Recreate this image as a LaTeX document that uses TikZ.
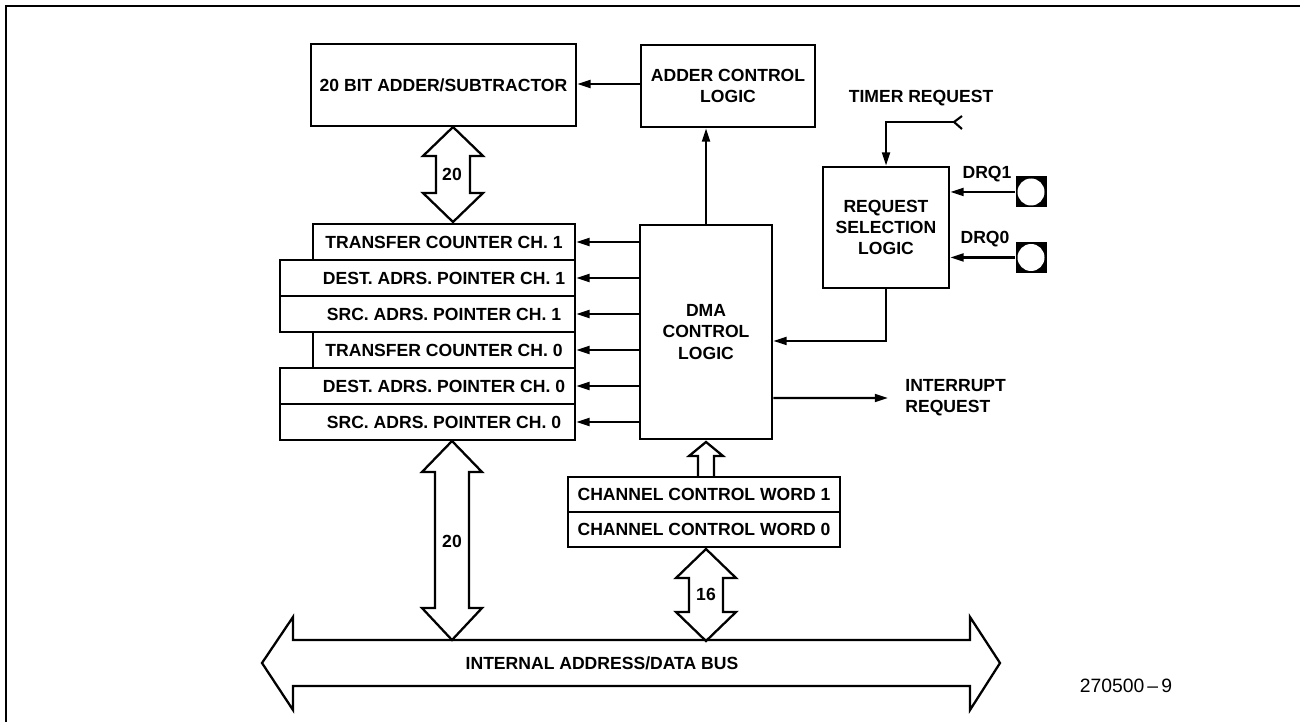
\documentclass[tikz,border=0pt]{standalone}
\usepackage{fontspec}
\setmainfont{Liberation Sans}
\usetikzlibrary{arrows.meta}

\begin{document}
\begin{tikzpicture}[x=0.02cm,y=-0.02cm,
	box/.style={draw,line width=1.6pt,inner sep=1pt,align=center,font=\bfseries},
	reg/.style={box,minimum height=0.72cm},
	conn/.style={line width=1.2pt,-{Triangle[length=7.5pt,width=4.5pt]}},
	bus/.style={line width=1.3pt,line join=miter},
	lbl/.style={inner sep=0,align=left,font=\bfseries},
	drq/.style={fill=black,inner sep=0,minimum size=0.62cm,path picture={\fill[white] (path picture bounding box.center) circle (0.27cm);}}]
	\useasboundingbox (0,0) rectangle (1300,722);
	\draw [line width=1.2pt] (6,722) -- (6,6) -- (1300,6);
	
	\node (add) [box,minimum width=5.3cm,minimum height=1.64cm] at (443.5,85) {20 BIT ADDER/SUBTRACTOR};
	\node (acl) [box,minimum width=3.48cm,minimum height=1.64cm] at (728,86) {ADDER CONTROL\\LOGIC};
	\node (dma) [box,minimum width=2.64cm,minimum height=4.28cm] at (706,332) {DMA\\CONTROL\\LOGIC};
	\node (rsl) [box,minimum width=2.52cm,minimum height=2.42cm] at (886,227.5) {REQUEST\\SELECTION\\LOGIC};
	
	\node (r1) [reg,minimum width=5.24cm] at (444,242) {TRANSFER COUNTER CH. 1};
	\node (r2) [reg,minimum width=5.9cm] at (427.5,278) {\hspace{0.66cm}DEST. ADRS. POINTER CH. 1};
	\node (r3) [reg,minimum width=5.9cm] at (427.5,314) {\hspace{0.66cm}SRC. ADRS. POINTER CH. 1};
	\node (r4) [reg,minimum width=5.24cm] at (444,350) {TRANSFER COUNTER CH. 0};
	\node (r5) [reg,minimum width=5.9cm] at (427.5,386) {\hspace{0.66cm}DEST. ADRS. POINTER CH. 0};
	\node (r6) [reg,minimum width=5.9cm] at (427.5,422) {\hspace{0.66cm}SRC. ADRS. POINTER CH. 0};
	
	\node (w1) [box,minimum width=5.44cm,minimum height=0.7cm] at (704,494.5) {CHANNEL CONTROL WORD 1};
	\node (w0) [box,minimum width=5.44cm,minimum height=0.7cm] at (704,529.5) {CHANNEL CONTROL WORD 0};
	
	\draw [conn] (acl.west |- 0,84) -- (add.east |- 0,84);
	\draw [conn] (dma.north) -- (dma.north |- acl.south);
	\draw [conn] (dma.west |- r1) -- (r1.east);
	\draw [conn] (dma.west |- r2) -- (r2.east);
	\draw [conn] (dma.west |- r3) -- (r3.east);
	\draw [conn] (dma.west |- r4) -- (r4.east);
	\draw [conn] (dma.west |- r5) -- (r5.east);
	\draw [conn] (dma.west |- r6) -- (r6.east);
	\draw [conn] (rsl.south) |- ([yshift=-0.18cm]dma.east);
	
	\node (irq) [lbl,anchor=west] at (905,398) {INTERRUPT\\REQUEST};
	\draw [conn] ([yshift=-1.32cm]dma.east) -- ([xshift=-0.34cm]irq.west);
	
	\node (tr) [lbl] at (921,98) {TIMER REQUEST};
	\coordinate (t1) at (954,122);
	\draw [conn] (t1) -| (rsl.north);
	\draw [line width=1.2pt] (t1) -- ++(8,-6) (t1) -- ++(8,7);
	
	\node (p1) [drq] at (1031,192) {};
	\node (p0) [drq] at (1031,257.5) {};
	\node (d1) [lbl] at (987,174) {DRQ1};
	\node (d0) [lbl] at (985,239) {DRQ0};
	\draw [conn] (p1.west) -- (p1.west -| rsl.east);
	\draw [conn] (p0.west) -- (p0.west -| rsl.east);
	
	\draw [bus] (453,127) -- (483,156) -- (470,156) -- (470,193) -- (483,193) -- (453,222) -- (423,193) -- (436,193) -- (436,156) -- (423,156) -- cycle;
	\draw [bus] (452,441) -- (482,472) -- (469,472) -- (469,608) -- (482,608) -- (452,640) -- (422,608) -- (435,608) -- (435,472) -- (422,472) -- cycle;
	\draw [bus] (714,477) -- (714,456) -- (723,456) -- (706,442) -- (689,456) -- (698,456) -- (698,477);
	\draw [bus] (706,549) -- (736,578) -- (723,578) -- (723,612) -- (736,612) -- (706,641) -- (676,612) -- (689,612) -- (689,578) -- (676,578) -- cycle;
	\draw [bus] (262,663) -- (293,617) -- (293,640) -- (970,640) -- (970,617) -- (1000,663) -- (970,710) -- (970,686) -- (293,686) -- (293,710) -- cycle;
	
	\node (n1) [lbl] at (452,174) {20};
	\node (n2) [lbl] at (452,541) {20};
	\node (n3) [lbl] at (706,594) {16};
	\node (bl) [lbl] at (602,663) {INTERNAL ADDRESS/DATA BUS};
	
	\node (fig) [inner sep=0,font=\fontsize{11}{13}\selectfont] at (1126,686) {270500\,--\,9};
\end{tikzpicture}
\end{document}
